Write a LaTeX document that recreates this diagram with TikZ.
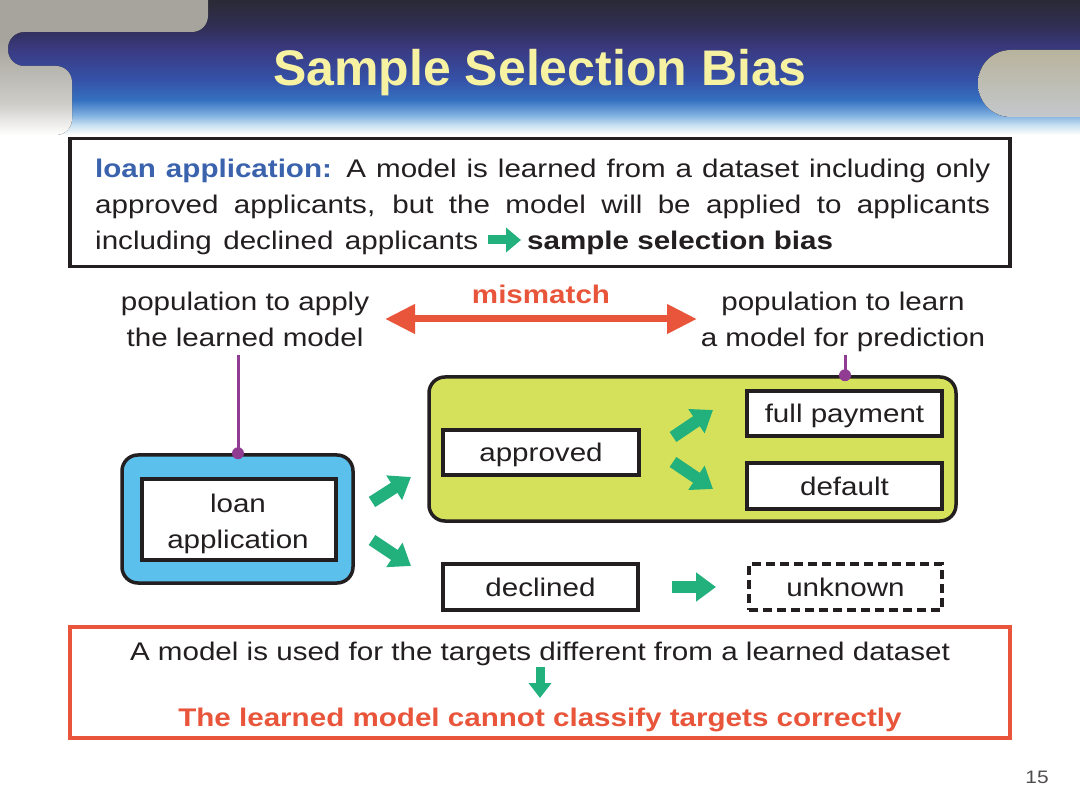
\documentclass[tikz,border=0pt]{standalone}
\usepackage{fontspec}
\setmainfont{Liberation Sans}
\newfontfamily\bodyf[FakeStretch=1.16]{Liberation Sans}
\usetikzlibrary{arrows.meta}
\definecolor{dark}{HTML}{231F20}
\definecolor{hA}{HTML}{C8E0F0}
\definecolor{hB}{HTML}{80B0E0}
\definecolor{hC}{HTML}{3570C0}
\definecolor{hD}{HTML}{3552A8}
\definecolor{hE}{HTML}{3A3A82}
\definecolor{hF}{HTML}{302E52}
\definecolor{hG}{HTML}{2A2A36}
\definecolor{titley}{HTML}{F7F2A2}
\definecolor{lblue}{HTML}{3B63AD}
\definecolor{skyb}{HTML}{5BC0EB}
\definecolor{ygreen}{HTML}{D5E15B}
\definecolor{garrow}{HTML}{22B07D}
\definecolor{orng}{HTML}{E9553A}
\definecolor{purp}{HTML}{913C93}
\definecolor{grayA}{HTML}{A6A49C}
\definecolor{grayB}{HTML}{B8B39C}
\definecolor{grayC}{HTML}{C4C8CC}
\pgfdeclareverticalshading{hdr}{100bp}{color(0bp)=(white); color(25bp)=(white); color(28.7bp)=(hA); color(32.4bp)=(hB); color(38bp)=(hC); color(45.4bp)=(hD); color(56.5bp)=(hE); color(65.7bp)=(hF); color(75bp)=(hG); color(100bp)=(hG)}
\pgfdeclareverticalshading{gry}{100bp}{color(0bp)=(white); color(25bp)=(white); color(35bp)=(grayA!55!white); color(55bp)=(grayA); color(75bp)=(grayA); color(100bp)=(grayA)}
\newcommand\bfs{\bodyf\fontsize{25.5}{36}\selectfont}
\tikzset{
  lbl/.style={font=\bfs, text=dark, inner sep=0pt},
  frame/.style={draw=dark, line width=3.5pt, inner sep=0pt},
  wbox/.style={frame, fill=white, font=\bfs, text=dark, text height=18pt, text depth=0pt},
  rbox/.style={frame, rounded corners=16pt},
  garr/.style={draw=garrow, line width=12pt, -{Triangle[length=20pt,width=28pt]}},
  purpline/.style={draw=purp, line width=3pt},
}
\begin{document}
\begin{tikzpicture}[x=1pt,y=-1pt]
\useasboundingbox (0,0) rectangle (1080,810);
\fill[white] (0,0) rectangle (1080,810);
% header
\fill[shading=hdr] (0,0) rectangle (1080,135);
\fill[shading=gry, rounded corners=16pt]
  (-20,-20) -- (208,-20) -- (208,32) -- (8,32) -- (8,66) -- (72,66) -- (72,135) -- (-20,135) -- cycle;
\fill[top color=grayB, bottom color=grayC, rounded corners=33pt] (978,50) rectangle (1120,117);
\node[font=\fontsize{50}{55}\selectfont\bfseries, text=titley, anchor=base, inner sep=0pt] (title) at (540,86) {Sample Selection Bias};

% top box
\node[frame, minimum width=940pt, minimum height=128pt] (topbox) at (540,202.5) {};
\node[lbl, anchor=base west] (t1) at (95,178) {\makebox[895pt][s]{\textcolor{lblue}{\bfseries loan application:} A model is learned from a dataset including only}};
\node[lbl, anchor=base west] (t2) at (95,214) {\makebox[895pt][s]{approved applicants, but the model will be applied to applicants}};
\node[lbl, anchor=base west] (t3) at (95,250) {\makebox[383pt][s]{including declined applicants}};
\node[lbl, anchor=base west] (t4) at (527,250) {\bfseries sample selection bias};
\coordinate (s0) at (488,240);
\coordinate (s1) at (521,240);
\draw[draw=garrow, line width=9pt, -{Triangle[length=15pt,width=24pt]}] (s0) -- (s1);

% population labels
\node[lbl, anchor=base, align=center] (popL) at (245,347) {population to apply\\the learned model};
\node[lbl, anchor=base, align=center] (popR) at (843,347) {population to learn\\a model for prediction};
\node[lbl, anchor=base, font=\bfs\bfseries, text=orng] (mism) at (541,304) {mismatch};
\coordinate (m0) at (385,319);
\coordinate (m1) at (697,319);
\draw[draw=orng, line width=7pt, {Triangle[length=30pt,width=28pt]}-{Triangle[length=30pt,width=28pt]}] (m0) -- (m1);

% boxes
\node[rbox, fill=skyb, minimum width=231pt, minimum height=128pt] (blue) at (237.5,519) {};
\node[frame, fill=white, minimum width=194pt, minimum height=81pt] (loan) at (239,519.5) {};
\node[lbl, anchor=base, align=center] (loant) at (238,548) {loan\\application};
\node[rbox, fill=ygreen, minimum width=527pt, minimum height=144pt] (ybox) at (692.5,449) {};
\node[wbox, minimum width=196pt, minimum height=45pt] (appr) at (541,452.5) {approved};
\node[wbox, minimum width=195pt, minimum height=45pt] (full) at (844.5,413.5) {full payment};
\node[wbox, minimum width=195pt, minimum height=46pt] (deft) at (844.5,486) {default};
\node[wbox, minimum width=195pt, minimum height=46pt] (decl) at (540.5,587) {declined};
\node[wbox, line width=4pt, dash pattern=on 9pt off 5pt, minimum width=193pt, minimum height=46pt] (unkn) at (845.5,587) {unknown};

% purple pointers
\coordinate (p1) at (238,355);
\coordinate (p2) at (845,355);
\draw[purpline] (p1) -- (p1 |- blue.north);
\fill[purp] (p1 |- blue.north) circle (6pt);
\draw[purpline] (p2) -- (p2 |- ybox.north);
\fill[purp] (p2 |- ybox.north) circle (6pt);

% green block arrows
\coordinate (a1s) at (372,502); \coordinate (a1e) at (411,477);
\coordinate (a2s) at (372,540); \coordinate (a2e) at (411,566);
\coordinate (a3s) at (673,437); \coordinate (a3e) at (713,410);
\coordinate (a4s) at (673,462); \coordinate (a4e) at (713,489);
\coordinate (a5s) at (672,587); \coordinate (a5e) at (716,587);
\draw[garr] (a1s) -- (a1e);
\draw[garr] (a2s) -- (a2e);
\draw[garr] (a3s) -- (a3e);
\draw[garr] (a4s) -- (a4e);
\draw[garr] (a5s) -- (a5e);

% bottom box
\node[draw=orng, line width=3.5pt, inner sep=0pt, minimum width=940pt, minimum height=111pt] (botbox) at (540,682.5) {};
\node[lbl, anchor=base] (b1) at (540,660) {A model is used for the targets different from a learned dataset};
\node[lbl, anchor=base, font=\bfs\bfseries, text=orng] (b2) at (540,726) {The learned model cannot classify targets correctly};
\coordinate (d0) at (540,667);
\coordinate (d1) at (540,698);
\draw[draw=garrow, line width=9pt, -{Triangle[length=15pt,width=22pt]}] (d0) -- (d1);

\node[anchor=base, inner sep=0pt, font=\bodyf\fontsize{18}{20}\selectfont, text=dark!80] (pg) at (1037,783) {15};
\end{tikzpicture}
\end{document}
